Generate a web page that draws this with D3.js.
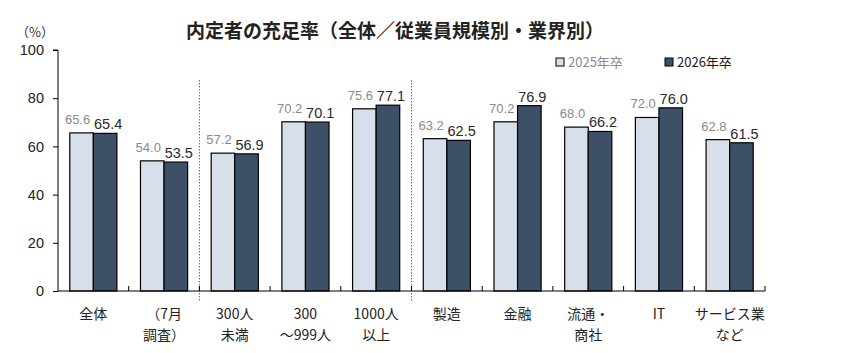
<!DOCTYPE html>
<html>
<head>
<meta charset="utf-8">
<script src="https://cdn.jsdelivr.net/npm/d3@7"></script>
<style>
  body { margin: 0; background: #fff; }
  text { font-family: "Liberation Sans", Arial, "Noto Sans CJK JP", sans-serif; }
  .jp { font-family: "Noto Sans CJK JP", sans-serif; }
</style>
</head>
<body>
<div id="chart"></div>
<script>
// Data
const categories = [
    ["全体"], ["（7月", "調査）"], ["300人", "未満"], ["300", "～999人"], ["1000人", "以上"],
    ["製造"], ["金融"], ["流通・", "商社"], ["IT"], ["サービス業", "など"]
];
const series2025 = [65.6, 54.0, 57.2, 70.2, 75.6, 63.2, 70.2, 68.0, 72.0, 62.8];
const series2026 = [65.4, 53.5, 56.9, 70.1, 77.1, 62.5, 76.9, 66.2, 76.0, 61.5];
const seriesNames = ["2025年卒", "2026年卒"];
const yTicks = [0, 20, 40, 60, 80, 100];
const separatorsAfter = [1, 4]; // dotted lines after these category indexes

const width = 847, height = 353;
const margin = {top: 50, right: 82, bottom: 62, left: 58};
const innerW = width - margin.left - margin.right;
const innerH = height - margin.top - margin.bottom;

const colorLight = "#d7e0ea";
const colorDark = "#3d5068";

const svg = d3.select("#chart").append("svg")
    .attr("width", width)
    .attr("height", height);

// Title
svg.append("text")
    .attr("class", "jp")
    .attr("x", 395)
    .attr("y", 38)
    .attr("text-anchor", "middle")
    .attr("font-size", 19)
    .attr("font-weight", "bold")
    .attr("fill", "#222")
    .text("内定者の充足率（全体／従業員規模別・業界別）");

// Unit label
svg.append("text")
    .attr("class", "jp")
    .attr("x", 35)
    .attr("y", 37)
    .attr("text-anchor", "middle")
    .attr("font-size", 13)
    .attr("fill", "#333")
    .text("（%）");

const g = svg.append("g")
    .attr("transform", `translate(${margin.left},${margin.top})`);

const x = d3.scaleBand()
    .domain(d3.range(categories.length))
    .range([0, innerW]);

const xSub = d3.scaleBand()
    .domain([0, 1])
    .range([x.bandwidth() / 6, x.bandwidth() * 5 / 6]);

const y = d3.scaleLinear()
    .domain([0, 100])
    .range([innerH, 0]);

// Y axis
const yAxis = g.append("g")
    .call(d3.axisLeft(y).tickValues(yTicks).tickSize(5).tickPadding(9));
yAxis.select(".domain").attr("stroke", "#000").attr("d", `M-5,${y(100)}H0V${innerH}`);
yAxis.selectAll(".tick line").attr("stroke", "#000");
yAxis.selectAll(".tick text")
    .attr("font-size", 14.5)
    .attr("fill", "#222")
    .attr("font-family", "'Liberation Sans', Arial, sans-serif");

// Separators
separatorsAfter.forEach(i => {
    const sx = x(i) + x.bandwidth();
    g.append("line")
        .attr("x1", sx).attr("x2", sx)
        .attr("y1", 30).attr("y2", innerH + 11)
        .attr("stroke", "#666")
        .attr("stroke-width", 1)
        .attr("stroke-dasharray", "1.5,1.5");
});

// Bars
const groups = g.selectAll(".grp")
    .data(categories.map((c, i) => ({i, vals: [series2025[i], series2026[i]]})))
    .enter().append("g")
    .attr("transform", d => `translate(${x(d.i)},0)`);

groups.selectAll("rect")
    .data(d => d.vals.map((v, k) => ({k, v})))
    .enter().append("rect")
    .attr("x", d => xSub(d.k))
    .attr("y", d => y(d.v))
    .attr("width", xSub.bandwidth())
    .attr("height", d => innerH - y(d.v))
    .attr("fill", d => d.k === 0 ? colorLight : colorDark)
    .attr("stroke", "#000")
    .attr("stroke-width", 1.2);

// Value labels
groups.selectAll(".val")
    .data(d => d.vals.map((v, k) => ({k, v})))
    .enter().append("text")
    .attr("x", d => xSub(d.k) + xSub.bandwidth() / 2 + (d.k === 0 ? -4 : 3))
    .attr("y", d => y(d.v) - (d.k === 0 ? 9 : 4))
    .attr("text-anchor", "middle")
    .attr("font-size", d => d.k === 0 ? 13 : 14.5)
    .attr("font-weight", "normal")
    .attr("fill", d => d.k === 0 ? "#8a8a8a" : "#2a2a2a")
    .text(d => d.v.toFixed(1));

// X axis line and ticks
g.append("line")
    .attr("x1", 0).attr("x2", innerW)
    .attr("y1", innerH).attr("y2", innerH)
    .attr("stroke", "#000");
g.selectAll(".xtick")
    .data(d3.range(1, categories.length + 1))
    .enter().append("line")
    .attr("x1", d => d === categories.length ? innerW : x(d))
    .attr("x2", d => d === categories.length ? innerW : x(d))
    .attr("y1", innerH - 5).attr("y2", innerH)
    .attr("stroke", "#000");

// Category labels
const catLabels = g.selectAll(".cat")
    .data(categories)
    .enter().append("text")
    .attr("class", "jp")
    .attr("text-anchor", "middle")
    .attr("font-size", 14)
    .attr("fill", "#222");
catLabels.selectAll("tspan")
    .data((d, i) => d.map((t, j) => ({t, j, i})))
    .enter().append("tspan")
    .attr("x", d => x(d.i) + x.bandwidth() / 2)
    .attr("y", d => innerH + 28 + d.j * 21)
    .text(d => d.t);

// Legend
const legend = svg.append("g").attr("transform", "translate(556,56)");
seriesNames.forEach((name, k) => {
    const lx = k * 109;
    legend.append("rect")
        .attr("x", lx).attr("y", 2)
        .attr("width", 8).attr("height", 8)
        .attr("fill", k === 0 ? colorLight : colorDark)
        .attr("stroke", "#000");
    legend.append("text")
        .attr("class", "jp")
        .attr("x", lx + 12).attr("y", 11)
        .attr("font-size", 13)
        .attr("fill", k === 0 ? "#8a8a8a" : "#1a1a1a")
        .text(name);
});
</script>
</body>
</html>
